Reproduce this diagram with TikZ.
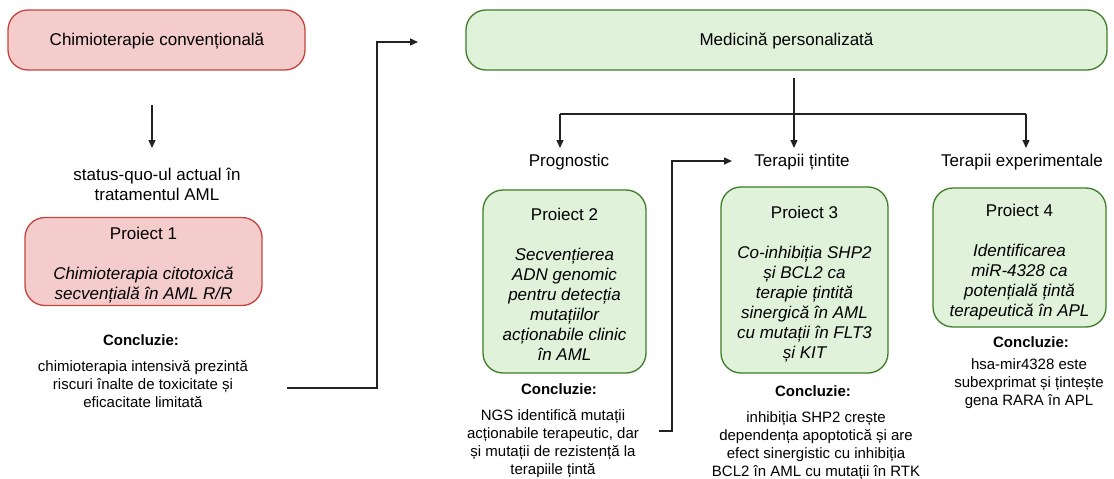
\documentclass[tikz,border=0pt]{standalone}
\usepackage{fontspec}
\setmainfont{Liberation Sans}
\usetikzlibrary{arrows.meta}
\definecolor{redfill}{HTML}{F4CCCC}
\definecolor{redline}{HTML}{C4443D}
\definecolor{greenfill}{HTML}{E0F2DA}
\definecolor{greenline}{HTML}{3E7D28}
\definecolor{ink}{HTML}{222222}
\begin{document}
\begin{tikzpicture}[x=1pt,y=-1pt,
  redbox/.style={draw=redline, fill=redfill, line width=1.3pt, rounded corners=20pt, align=center, inner sep=0pt, font=\fontsize{17}{20}\selectfont},
  greenbox/.style={draw=greenline, fill=greenfill, line width=1.3pt, rounded corners=20pt, align=center, inner sep=0pt, font=\fontsize{17}{20}\selectfont},
  lbl/.style={font=\fontsize{17}{20}\selectfont, align=center, inner sep=0pt},
  small/.style={font=\fontsize{15}{18}\selectfont, align=center, inner sep=0pt},
  smallb/.style={font=\fontsize{15}{18}\selectfont\bfseries, align=center, inner sep=0pt},
  arr/.style={draw=ink, line width=1.3pt, -{Triangle[length=8pt,width=7pt]}},
  ln/.style={draw=ink, line width=1.3pt}]
\useasboundingbox (0,0) rectangle (1114,479);

% left column
\node[redbox, minimum width=297pt, minimum height=60pt] (chimio) at (156.5,40) {};
\node[lbl] (chimiot) at (157,41) {Chimioterapie convențională};
\coordinate (a1s) at (152,105);
\coordinate (a1e) at (152,148);
\draw[arr] (a1s) -- (a1e);
\node[lbl] (status) at (157,184) {status-quo-ul actual în\\tratamentul AML};
\node[redbox, minimum width=237pt, minimum height=88pt] (p1) at (143.5,261.5) {};
\node[lbl] (p1t) at (143.5,265) {Proiect 1\\[20pt]\itshape Chimioterapia citotoxică\\\itshape secvențială în AML R/R};
\node[smallb] (k1) at (141,340) {Concluzie:};
\node[small] (t1) at (143,384.5) {chimioterapia intensivă prezintă\\riscuri înalte de toxicitate și\\eficacitate limitată};

\coordinate (e1a) at (287,388);
\coordinate (e1b) at (418,42);
\draw[arr] (e1a) -- (377,388) -- (377,42) -- (e1b);

% right part
\node[greenbox, minimum width=641pt, minimum height=60pt] (med) at (786.5,40) {};
\node[lbl] (medt) at (786.5,41) {Medicină personalizată};
\node[lbl] (prog) at (569,162) {Prognostic};
\node[lbl] (tint) at (802,162) {Terapii țintite};
\node[lbl] (exp) at (1022,162) {Terapii experimentale};

\coordinate (m0) at (794,78);
\coordinate (mL) at (560,114);
\coordinate (mR) at (1026,114);
\draw[arr] (m0) -- (794,148);
\draw[ln] (mL) -- (mR);
\draw[arr] (mL) -- (560,148);
\draw[arr] (mR) -- (1026,148);

\node[greenbox, minimum width=163pt, minimum height=183pt] (p2) at (564.5,281.5) {};
\node[lbl] (p2t) at (564.5,284.5) {Proiect 2\\[20pt]\itshape Secvențierea\\\itshape ADN genomic\\\itshape pentru detecția\\\itshape mutațiilor\\\itshape acționabile clinic\\\itshape în AML};
\node[smallb] (k2) at (559,389) {Concluzie:};
\node[small] (t2) at (553,443.5) {NGS identifică mutații\\acționabile terapeutic, dar\\și mutații de rezistență la\\terapiile țintă};

\coordinate (e2a) at (659,431);
\coordinate (e2b) at (732,161);
\draw[arr] (e2a) -- (672,431) -- (672,161) -- (e2b);

\node[greenbox, minimum width=167pt, minimum height=186pt] (p3) at (804.5,280) {};
\node[lbl] (p3t) at (804.5,284.5) {Proiect 3\\[20pt]\itshape Co-inhibiția SHP2\\\itshape și BCL2 ca\\\itshape terapie țintită\\\itshape sinergică în AML\\\itshape cu mutații în FLT3\\\itshape și KIT};
\node[smallb] (k3) at (813,391) {Concluzie:};
\node[small] (t3) at (816,446) {inhibiția SHP2 crește\\dependența apoptotică și are\\efect sinergistic cu inhibiția\\BCL2 în AML cu mutații în RTK};

\node[greenbox, minimum width=173pt, minimum height=139pt] (p4) at (1019.5,257.5) {};
\node[lbl] (p4t) at (1019.5,262) {Proiect 4\\[20pt]\itshape Identificarea\\\itshape miR-4328 ca\\\itshape potențială țintă\\\itshape terapeutică în APL};
\node[smallb] (k4) at (1031,342) {Concluzie:};
\node[small] (t4) at (1029,383.5) {hsa-mir4328 este\\subexprimat și țintește\\gena RARA în APL};
\end{tikzpicture}
\end{document}
